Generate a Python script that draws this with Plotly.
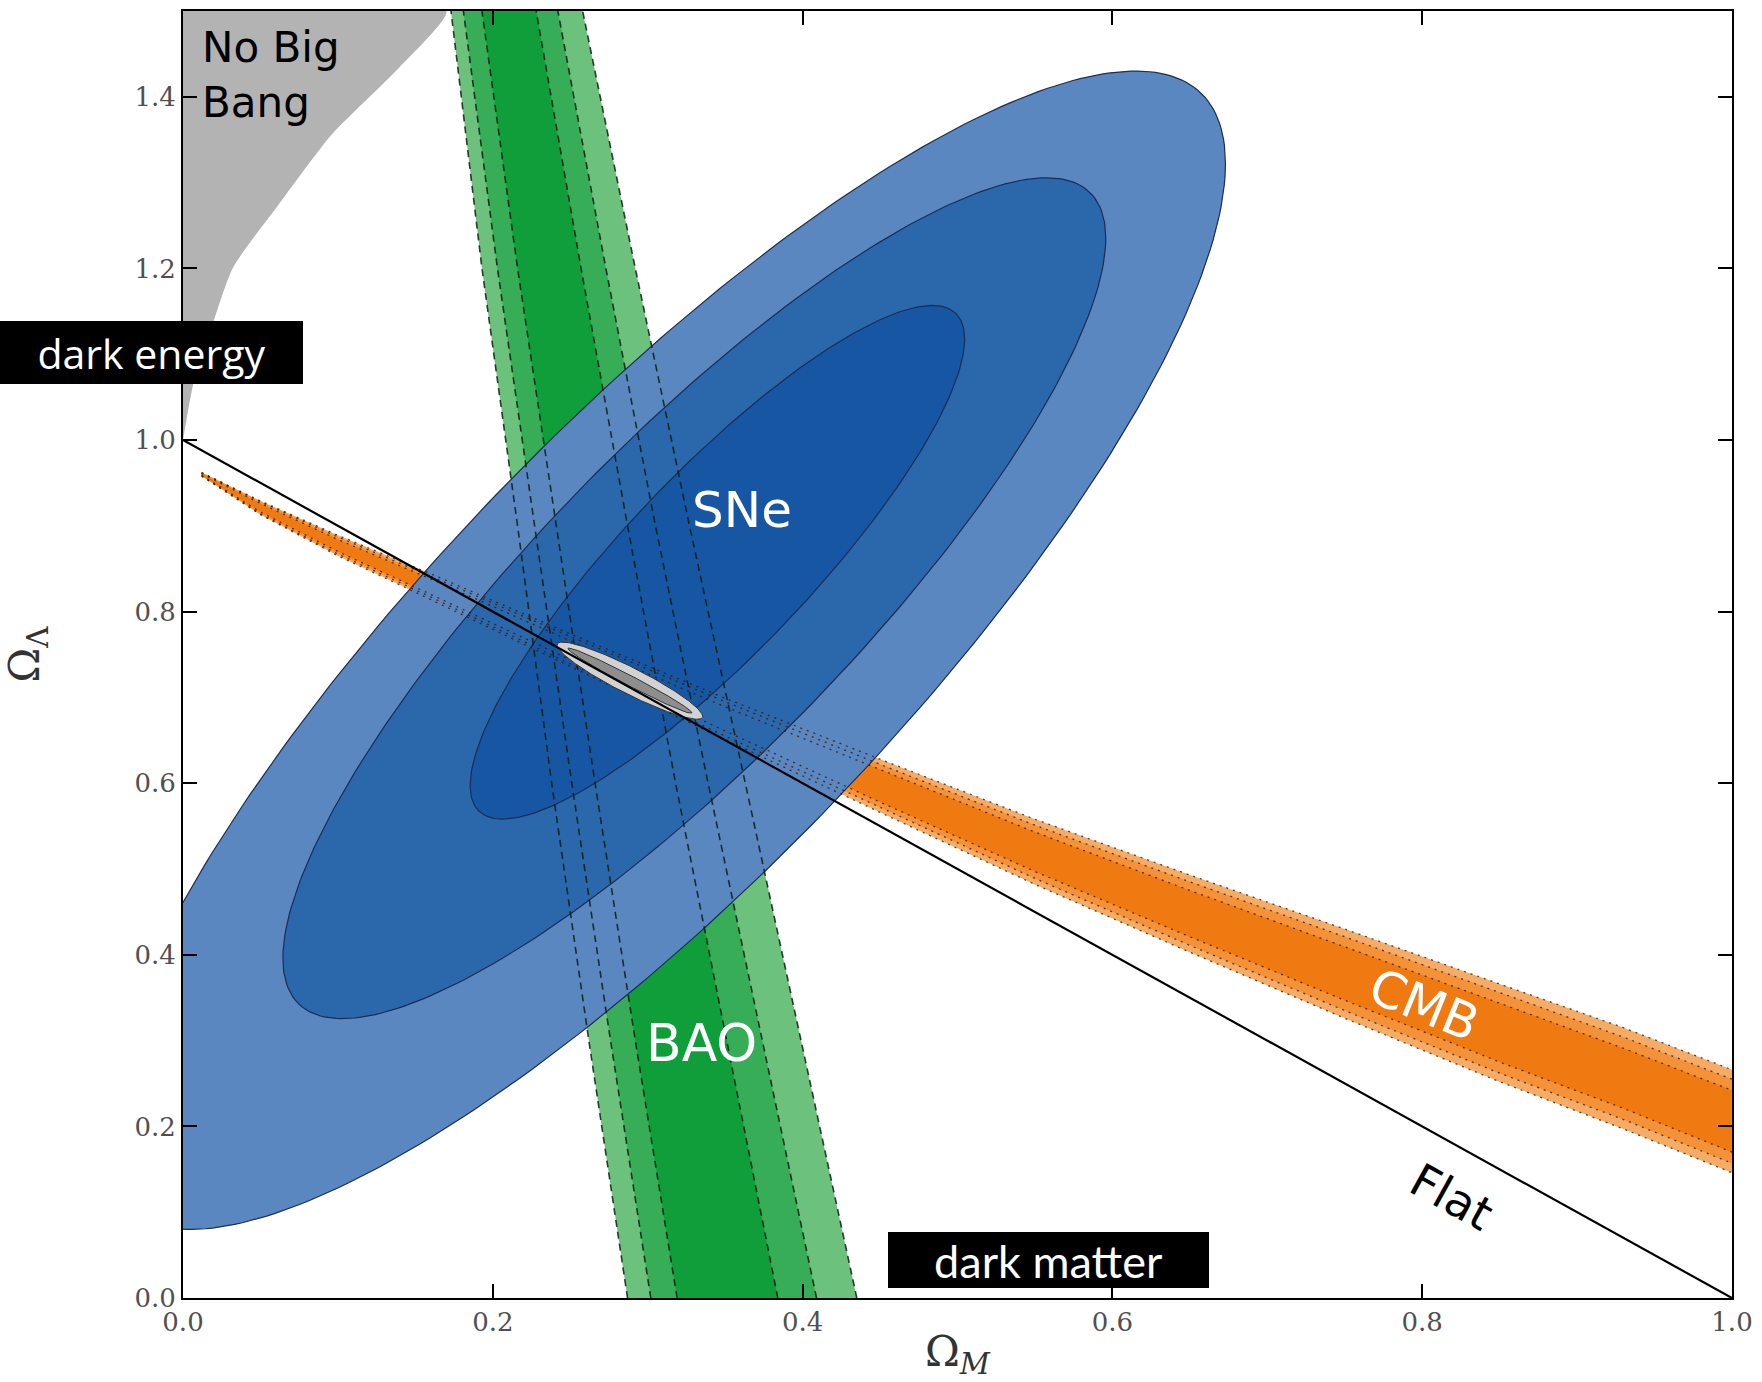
import numpy as np
import plotly.graph_objects as go

# ---------------- data ----------------
# "No Big Bang" region boundary (Omega_M, Omega_Lambda)
nbb_om = [0.0, 0.0066, 0.013, 0.032, 0.060, 0.096, 0.139, 0.170]
nbb_ol = [1.0, 1.065, 1.10, 1.20, 1.27, 1.356, 1.433, 1.5]

# BAO band: Omega_M of each contour edge at the given Omega_Lambda
bao_ol = [0.0, 0.3, 0.6, 0.9, 1.2, 1.5]
bao_3s_left = [0.287, 0.262, 0.238, 0.216, 0.193, 0.173]
bao_2s_left = [0.302, 0.276, 0.251, 0.227, 0.203, 0.181]
bao_1s_left = [0.319, 0.292, 0.266, 0.241, 0.216, 0.193]
bao_1s_right = [0.384, 0.351, 0.318, 0.287, 0.257, 0.228]
bao_2s_right = [0.409, 0.374, 0.339, 0.305, 0.273, 0.242]
bao_3s_right = [0.435, 0.399, 0.363, 0.327, 0.292, 0.258]

# CMB band: Omega_Lambda of each contour edge at the given Omega_M
cmb_om = [0.012, 0.05, 0.10, 0.16, 0.25, 0.35, 0.45, 0.55, 0.65, 0.75, 0.85, 0.93, 1.0]
cmb_3s_top = [0.962, 0.929, 0.889, 0.844, 0.774, 0.699, 0.628, 0.558, 0.493, 0.430, 0.366, 0.315, 0.266]
cmb_3s_bot = [0.958, 0.913, 0.865, 0.814, 0.736, 0.651, 0.566, 0.482, 0.403, 0.326, 0.252, 0.197, 0.146]
cmb_2s_top = [0.962, 0.928, 0.887, 0.841, 0.771, 0.695, 0.622, 0.551, 0.485, 0.421, 0.356, 0.304, 0.255]
cmb_2s_bot = [0.958, 0.914, 0.867, 0.817, 0.739, 0.655, 0.572, 0.489, 0.411, 0.335, 0.262, 0.208, 0.157]
cmb_1s_top = [0.961, 0.926, 0.884, 0.838, 0.766, 0.689, 0.616, 0.543, 0.475, 0.409, 0.343, 0.291, 0.242]
cmb_1s_bot = [0.959, 0.916, 0.870, 0.820, 0.744, 0.661, 0.578, 0.497, 0.421, 0.347, 0.275, 0.221, 0.170]

# SNe confidence ellipses (outer, middle, inner):
# centre, half-extent in Omega_M, half-extent in Omega_Lambda, correlation
sne_cx = [0.310, 0.3301, 0.345]
sne_cy = [0.755, 0.8156, 0.8575]
sne_wx = [0.363, 0.2656, 0.1596]
sne_wy = [0.675, 0.4900, 0.2993]
sne_rho = [0.840, 0.856, 0.869]

# combined constraint (outer, inner)
comb_cx = [0.2885, 0.2885]
comb_cy = [0.7195, 0.7195]
comb_wx = [0.047, 0.040]
comb_wy = [0.045, 0.038]
comb_rho = [-0.925, -0.985]

# flat universe line
flat_om = [0.0, 1.0]
flat_ol = [1.0, 0.0]

x_ticks = [0.0, 0.2, 0.4, 0.6, 0.8, 1.0]
y_ticks = [0.0, 0.2, 0.4, 0.6, 0.8, 1.0, 1.2, 1.4]

# ---------------- styles ----------------
GRAY = "#b3b3b3"
BAO_COL = ["#6cc27c", "#36ad56", "#0f9e3a"]
CMB_COL = ["#f5ac66", "#f39238", "#f07a12"]
SNE_COL = ["#5a87c0", "#2b67ab", "#1756a3"]
COMB_COL = ["#d2d2d2", "#8e8e8e"]
EDGE = "#1b2d55"


def ellipse(cx, cy, wx, wy, rho, n=300):
    t = np.linspace(0, 2 * np.pi, n)
    x = cx + wx * np.cos(t)
    y = cy + wy * (rho * np.cos(t) + np.sqrt(1 - rho ** 2) * np.sin(t))
    return x, y


fig = go.Figure()

# No Big Bang
fig.add_trace(go.Scatter(x=nbb_om + [0.0], y=nbb_ol + [1.5], fill="toself", mode="lines",
                         line=dict(width=0, color=GRAY, shape="spline", smoothing=0.6),
                         fillcolor=GRAY, hoverinfo="skip"))

# CMB fills
for top, bot, col in [(cmb_3s_top, cmb_3s_bot, CMB_COL[0]), (cmb_2s_top, cmb_2s_bot, CMB_COL[1]),
                      (cmb_1s_top, cmb_1s_bot, CMB_COL[2])]:
    fig.add_trace(go.Scatter(x=cmb_om + cmb_om[::-1], y=top + bot[::-1], fill="toself", mode="lines",
                             line=dict(width=0, color=col), fillcolor=col, hoverinfo="skip"))

# BAO fills
for left, right, col in [(bao_3s_left, bao_3s_right, BAO_COL[0]), (bao_2s_left, bao_2s_right, BAO_COL[1]),
                         (bao_1s_left, bao_1s_right, BAO_COL[2])]:
    fig.add_trace(go.Scatter(x=left + right[::-1], y=bao_ol + bao_ol[::-1], fill="toself", mode="lines",
                             line=dict(width=0, color=col), fillcolor=col, hoverinfo="skip"))

# SNe ellipses
for i in range(3):
    ex, ey = ellipse(sne_cx[i], sne_cy[i], sne_wx[i], sne_wy[i], sne_rho[i])
    fig.add_trace(go.Scatter(x=ex, y=ey, fill="toself", mode="lines",
                             line=dict(width=1.2, color=EDGE), fillcolor=SNE_COL[i], hoverinfo="skip"))

# BAO dashed contour lines
for edge in [bao_3s_left, bao_2s_left, bao_1s_left, bao_1s_right, bao_2s_right, bao_3s_right]:
    fig.add_trace(go.Scatter(x=edge, y=bao_ol, mode="lines",
                             line=dict(width=1.6, color="rgba(10,30,15,0.85)", dash="7px,5px"),
                             hoverinfo="skip"))

# CMB dotted contour lines
for edge in [cmb_3s_top, cmb_3s_bot, cmb_2s_top, cmb_2s_bot, cmb_1s_top, cmb_1s_bot]:
    fig.add_trace(go.Scatter(x=cmb_om, y=edge, mode="lines",
                             line=dict(width=1.3, color="rgba(60,20,0,0.8)", dash="2px,5px"),
                             hoverinfo="skip"))

# combined constraint
for i in range(2):
    ex, ey = ellipse(comb_cx[i], comb_cy[i], comb_wx[i], comb_wy[i], comb_rho[i])
    fig.add_trace(go.Scatter(x=ex, y=ey, fill="toself", mode="lines",
                             line=dict(width=1, color="#333333"), fillcolor=COMB_COL[i], hoverinfo="skip"))

# flat line
fig.add_trace(go.Scatter(x=flat_om, y=flat_ol, mode="lines", line=dict(width=2.2, color="black"),
                         hoverinfo="skip"))

ann = []
ann.append(dict(x=0.011, y=1.488, text="No Big<br>Bang", xanchor="left", yanchor="top", align="left",
                showarrow=False, font=dict(family="DejaVu Sans", size=42, color="black")))
ann.append(dict(x=0.361, y=0.919, text="SNe", showarrow=False, xanchor="center", yanchor="middle",
                font=dict(family="DejaVu Sans", size=50, color="white")))
ann.append(dict(x=0.335, y=0.297, text="BAO", showarrow=False, xanchor="center", yanchor="middle",
                font=dict(family="DejaVu Sans", size=52, color="white")))
ann.append(dict(x=0.801, y=0.342, text="CMB", showarrow=False, textangle=22, xanchor="center", yanchor="middle",
                font=dict(family="DejaVu Sans", size=50, color="white")))
ann.append(dict(x=0.819, y=0.118, text="Flat", showarrow=False, textangle=29, xanchor="center", yanchor="middle",
                font=dict(family="DejaVu Sans", size=46, color="black")))
ann.append(dict(xref="paper", yref="paper", x=-0.0202, y=0.7343, text="dark energy", showarrow=False,
                xanchor="center", yanchor="middle",
                width=303, height=63, bgcolor="black", borderpad=0, borderwidth=0,
                font=dict(family="Open Sans", size=41, color="white")))
ann.append(dict(xref="paper", yref="paper", x=0.5585, y=0.0295, text="dark matter", showarrow=False,
                xanchor="center", yanchor="middle",
                width=321, height=56, bgcolor="black", borderpad=0, borderwidth=0, valign="bottom",
                font=dict(family="Lato", size=45, color="white")))

axis_common = dict(showline=True, linecolor="black", linewidth=2, mirror="ticks", ticks="inside",
                   ticklen=14, tickwidth=2, tickcolor="black", showgrid=False, zeroline=False,
                   tickformat=".1f", tickfont=dict(family="DejaVu Serif", size=26, color="#505050"))

fig.update_layout(
    width=1762, height=1382, margin=dict(l=183, r=22, t=9, b=84),
    plot_bgcolor="white", paper_bgcolor="white", showlegend=False,
    xaxis=dict(range=[0, 1], tickvals=x_ticks,
               title=dict(text="Ω<sub><i>M</i></sub>", font=dict(family="DejaVu Serif", size=42, color="#333333"),
                          standoff=0), **axis_common),
    yaxis=dict(range=[0, 1.5], tickvals=y_ticks,
               title=dict(text="Ω<sub>Λ</sub>", font=dict(family="DejaVu Serif", size=42, color="#333333"),
                          standoff=86), **axis_common),
    annotations=ann,
)

fig.write_html("out.html", config={"displayModeBar": False},
               post_script="document.body.style.margin='0px';")
